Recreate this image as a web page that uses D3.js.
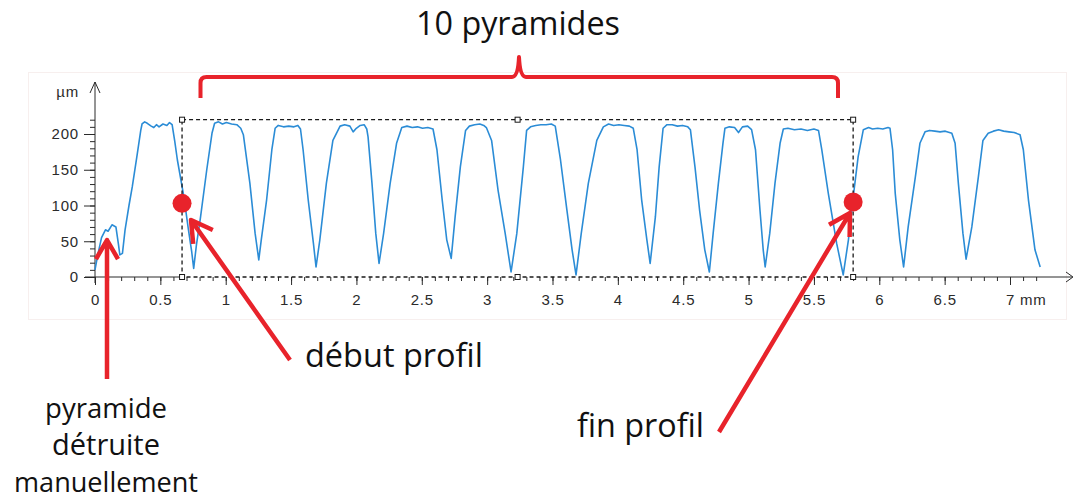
<!DOCTYPE html>
<html>
<head>
<meta charset="utf-8">
<script src="https://cdn.jsdelivr.net/npm/d3@7"></script>
<style>
  html, body { margin: 0; padding: 0; background: #fff; }
  svg { display: block; }
  .note { font-family: "Open Sans", sans-serif; fill: #111; }
</style>
</head>
<body>
<svg id="chart"></svg>
<script>
// profile : [position (mm), height (µm)]
const profile = [
  // pyramide détruite
  [0.00,10],[0.02,30],[0.05,55],[0.08,66],[0.10,64],[0.13,73],[0.16,70],[0.18,45],[0.19,31],[0.21,33],
  // pyramide avant le profil
  [0.23,66],[0.26,100],[0.285,126],[0.32,168],[0.35,205],[0.36,214],[0.38,217],[0.40,215],[0.43,211],[0.45,209],
  [0.47,213],[0.49,210],[0.52,214],[0.55,212],[0.57,216],[0.59,213],[0.61,190],[0.63,164],[0.68,112],[0.715,66],
  [0.74,35],[0.755,12],
  // 1
  [0.776,45],[0.806,82],[0.855,150],[0.895,201],[0.915,215],[0.945,217],[0.975,214],[1.005,216],[1.045,214],
  [1.085,213],[1.115,208],[1.135,199],[1.185,131],[1.225,61],[1.253,24],
  // 2
  [1.272,52],[1.313,108],[1.353,178],[1.378,208],[1.402,212],[1.442,210],[1.482,211],[1.522,210],[1.552,212],
  [1.572,207],[1.592,178],[1.631,108],[1.671,47],[1.691,14],
  // 3
  [1.72,52],[1.77,131],[1.82,191],[1.875,211],[1.91,213],[1.95,211],[1.975,203],[1.999,208],[2.029,212],
  [2.059,213],[2.079,207],[2.089,196],[2.119,131],[2.148,61],[2.173,19],
  // 4
  [2.208,61],[2.258,131],[2.307,187],[2.347,209],[2.387,211],[2.427,209],[2.467,210],[2.506,208],[2.546,209],
  [2.586,207],[2.616,178],[2.656,108],[2.691,52],[2.725,26],
  // 5
  [2.755,84],[2.795,154],[2.835,205],[2.864,211],[2.904,213],[2.944,214],[2.974,212],[2.994,209],[3.034,191],
  [3.083,122],[3.138,61],[3.183,7],
  // 6
  [3.227,61],[3.277,154],[3.302,205],[3.332,210],[3.372,212],[3.411,213],[3.451,213],[3.491,214],[3.521,211],
  [3.561,164],[3.61,94],[3.65,38],[3.68,3],
  // 7
  [3.72,61],[3.774,131],[3.839,191],[3.889,210],[3.929,214],[3.968,212],[4.008,213],[4.048,212],[4.088,211],
  [4.118,208],[4.147,178],[4.182,108],[4.222,52],[4.247,19],
  // 8
  [4.287,84],[4.316,154],[4.346,208],[4.376,213],[4.416,213],[4.456,211],[4.495,212],[4.535,210],[4.555,206],
  [4.59,154],[4.625,94],[4.665,38],[4.7,7],
  // 9
  [4.729,61],[4.769,131],[4.804,187],[4.819,208],[4.853,210],[4.893,209],[4.923,202],[4.953,210],[4.993,211],
  [5.023,206],[5.053,178],[5.087,94],[5.112,38],[5.127,14],
  // 10
  [5.162,61],[5.202,131],[5.241,187],[5.266,207],[5.301,208],[5.351,206],[5.401,207],[5.45,205],[5.5,207],
  [5.535,205],[5.56,178],[5.61,117],[5.674,47],[5.724,3],
  // après le profil
  [5.764,52],[5.798,108],[5.838,168],[5.878,206],[5.918,209],[5.948,207],[5.988,208],[6.027,207],[6.067,209],
  [6.082,208],[6.102,178],[6.122,117],[6.157,52],[6.186,14],
  [6.221,70],[6.276,140],[6.311,187],[6.35,203],[6.385,205],[6.425,204],[6.465,203],[6.505,204],[6.555,201],
  [6.58,187],[6.605,131],[6.64,61],[6.664,25],
  [6.708,70],[6.758,140],[6.793,191],[6.833,201],[6.873,204],[6.913,206],[6.952,204],[6.992,203],[7.032,202],
  [7.077,199],[7.102,178],[7.141,108],[7.191,38],[7.231,14]
];

const xMajorTicks = [0, 0.5, 1, 1.5, 2, 2.5, 3, 3.5, 4, 4.5, 5, 5.5, 6, 6.5, 7];
const xTickLabels = ['0', '0.5', '1', '1.5', '2', '2.5', '3', '3.5', '4', '4.5', '5', '5.5', '6', '6.5', '7'];
const yMajorTicks = [0, 50, 100, 150, 200];
const yTickLabels = ['0', '50', '100', '150', '200'];

// zone du profil (mm) et hauteur du cadre (µm)
const profileWindow = [0.666, 5.8];
const windowTop = 220;
// points rouges début / fin
const profileMarks = [[0.666, 103], [5.8, 105]];

class ProfileChart {

  constructor(_config) {
    this.config = {
      parentElement: _config.parentElement,
      containerWidth: 1074,
      containerHeight: 499,
      xRange: [95, 1010],
      yRange: [277, 134]
    }
    this.initVis();
  }

  initVis() {
    let vis = this;

    vis.svg = d3.select(vis.config.parentElement)
        .attr('width', vis.config.containerWidth)
        .attr('height', vis.config.containerHeight);

    vis.x = d3.scaleLinear().domain([0, 7]).range(vis.config.xRange);
    vis.y = d3.scaleLinear().domain([0, 200]).range(vis.config.yRange);

    // faint panel of the profilometer window
    vis.svg.append('rect')
        .attr('x', 28.5).attr('y', 72.5)
        .attr('width', 1038).attr('height', 247)
        .attr('fill', '#fff')
        .attr('stroke', '#f7efee');

    vis.chart = vis.svg.append('g');
    vis.notes = vis.svg.append('g');

    vis.updateVis();
  }

  updateVis() {
    let vis = this;
    vis.xMinor = d3.range(0, 7.25, 0.1);
    vis.yMinor = d3.range(0, 221, 10);
    vis.renderVis();
  }

  renderVis() {
    let vis = this;
    const x = vis.x, y = vis.y;
    const y0 = y(0);
    const axisColor = '#2a2a2a';

    const labelStyle = sel => sel
        .style('font-family', '"Liberation Sans", Arial, sans-serif')
        .style('font-size', '15px')
        .style('letter-spacing', '0.8px')
        .style('fill', '#2b2b2b');

    // x axis : minor + major ticks
    const xMinorAxis = d3.axisBottom(x).tickValues(vis.xMinor).tickSize(4).tickFormat('').tickSizeOuter(0);
    const xMajorAxis = d3.axisBottom(x).tickValues(xMajorTicks).tickSize(8).tickPadding(7)
        .tickFormat((d, i) => xTickLabels[i]).tickSizeOuter(0);

    [xMinorAxis, xMajorAxis].forEach(ax => {
      const g = vis.chart.append('g').attr('transform', `translate(0,${y0})`).call(ax);
      g.select('.domain').remove();
      g.selectAll('.tick line').attr('stroke', axisColor);
      g.selectAll('.tick text').attr('dy', '0.85em').call(labelStyle);
    });

    // "mm" unit after the last label
    vis.chart.append('text')
        .attr('x', x(7) + 10).attr('y', y0 + 28)
        .text('mm')
        .call(labelStyle);

    // y axis
    const yMinorAxis = d3.axisLeft(y).tickValues(vis.yMinor).tickSize(5).tickFormat('').tickSizeOuter(0);
    const yMajorAxis = d3.axisLeft(y).tickValues(yMajorTicks).tickSize(11).tickPadding(5)
        .tickFormat((d, i) => yTickLabels[i]).tickSizeOuter(0);
    [yMinorAxis, yMajorAxis].forEach(ax => {
      const g = vis.chart.append('g').attr('transform', `translate(${x(0)},0)`).call(ax);
      g.select('.domain').remove();
      g.selectAll('.tick line').attr('stroke', axisColor);
      g.selectAll('.tick text').call(labelStyle);
    });

    vis.chart.append('text')
        .attr('x', x(0) - 16).attr('y', 97)
        .attr('text-anchor', 'end')
        .text('µm')
        .call(labelStyle);

    // axis lines (the bottom one is hidden by the dashed window)
    const xL = x(profileWindow[0]), xR = x(profileWindow[1]);
    vis.chart.append('path')
        .attr('d', `M${x(0) - 10},${y0}H${xL}M${xR},${y0}H1072`)
        .attr('stroke', axisColor).attr('fill', 'none');
    vis.chart.append('path')
        .attr('d', `M1066,${y0 - 5}L1073,${y0}L1066,${y0 + 5}`)
        .attr('stroke', axisColor).attr('fill', 'none');
    vis.chart.append('path')
        .attr('d', `M${x(0)},${y0 + 6}V82`)
        .attr('stroke', axisColor).attr('fill', 'none');
    vis.chart.append('path')
        .attr('d', `M${x(0) - 5},93L${x(0)},82L${x(0) + 5},93`)
        .attr('stroke', axisColor).attr('fill', 'none');

    // profile line
    const line = d3.line().x(d => x(d[0])).y(d => y(d[1]));
    vis.chart.append('path')
        .datum(profile)
        .attr('d', line)
        .attr('fill', 'none')
        .attr('stroke', '#2b8cd6')
        .attr('stroke-width', 1.6)
        .attr('stroke-linejoin', 'round');

    // dashed selection window
    const yT = y(windowTop);
    vis.chart.append('rect')
        .attr('x', xL).attr('y', yT)
        .attr('width', xR - xL).attr('height', y0 - yT)
        .attr('fill', 'none')
        .attr('stroke', '#1a1a1a')
        .attr('stroke-width', 1.3)
        .attr('stroke-dasharray', '4,3');

    const xMid = x((profileWindow[0] + profileWindow[1]) / 2);
    const handles = [[xL, yT], [xMid, yT], [xR, yT], [xL, y0], [xMid, y0], [xR, y0]];
    vis.chart.selectAll('.handle')
      .data(handles)
      .join('rect')
        .attr('class', 'handle')
        .attr('x', d => d[0] - 2.5).attr('y', d => d[1] - 2.5)
        .attr('width', 5).attr('height', 5)
        .attr('fill', '#fff').attr('stroke', '#1a1a1a');

    // ---- annotations ----
    const red = '#e8232b';

    // red dots
    vis.notes.selectAll('.mark')
      .data(profileMarks)
      .join('circle')
        .attr('class', 'mark')
        .attr('cx', d => x(d[0])).attr('cy', d => y(d[1]))
        .attr('r', 9.5)
        .attr('fill', red);

    // bracket "10 pyramides"
    const bL = 200.5, bR = 838, bY = 77, bMid = 519;
    vis.notes.append('path')
        .attr('d', `M${bL},98V${bY + 6}Q${bL},${bY} ${bL + 6},${bY}H${bMid - 7}` +
                   `Q${bMid - 1},${bY} ${bMid},${bY - 20}Q${bMid + 1},${bY} ${bMid + 7},${bY}` +
                   `H${bR - 6}Q${bR},${bY} ${bR},${bY + 6}V98`)
        .attr('fill', 'none')
        .attr('stroke', red)
        .attr('stroke-width', 4)
        .attr('stroke-linejoin', 'round');

    const arrow = (x1, y1, x2, y2, head) => {
      const a = Math.atan2(y1 - y2, x1 - x2);
      const da = Math.PI / 6;
      const p1 = [x2 + head * Math.cos(a + da), y2 + head * Math.sin(a + da)];
      const p2 = [x2 + head * Math.cos(a - da), y2 + head * Math.sin(a - da)];
      vis.notes.append('path')
          .attr('d', `M${x1},${y1}L${x2},${y2}M${p1[0]},${p1[1]}L${x2},${y2}L${p2[0]},${p2[1]}`)
          .attr('fill', 'none')
          .attr('stroke', red)
          .attr('stroke-width', 4.5)
          .attr('stroke-linejoin', 'round');
    };
    arrow(107, 379, 107, 240, 22);
    arrow(290, 360, 191, 220, 24);
    arrow(719, 432, 850, 213, 24);

    const note = (txt, xPos, yPos, width, anchor) => {
      const t = vis.notes.append('text')
          .attr('class', 'note')
          .attr('x', xPos).attr('y', yPos)
          .attr('text-anchor', anchor)
          .style('font-size', '28px')
          .text(txt);
      const w = t.node().getComputedTextLength();
      t.style('font-size', (28 * width / w).toFixed(2) + 'px');
    };
    note('10 pyramides', 518, 35, 204, 'middle');
    note('début profil', 305, 367, 178, 'start');
    note('fin profil', 577, 437, 127, 'start');
    note('pyramide', 106, 418, 122, 'middle');
    note('détruite', 106, 455, 108, 'middle');
    note('manuellement', 106, 492, 184, 'middle');
  }
}

new ProfileChart({ parentElement: '#chart' });
</script>
</body>
</html>
